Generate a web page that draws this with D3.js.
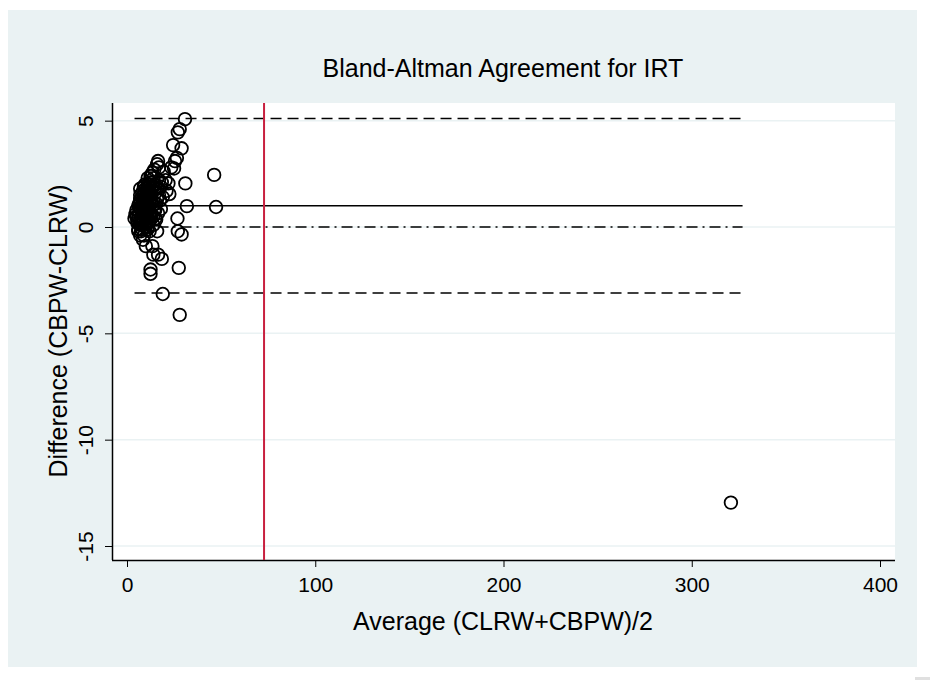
<!DOCTYPE html>
<html><head><meta charset="utf-8">
<script src="https://cdn.jsdelivr.net/npm/d3@7"></script>
<style>body{margin:0;background:#fff}svg{display:block}text{font-family:"Liberation Sans",Arial,sans-serif;fill:#000}</style>
</head><body>
<svg id="c" width="930" height="680"></svg>
<script>
const title = "Bland-Altman Agreement for IRT";
const xLabel = "Average (CLRW+CBPW)/2";
const yLabel = "Difference (CBPW-CLRW)";
const xTicks = [0, 100, 200, 300, 400];
const yTicks = [5, 0, -5, -10, -15];
const avgValues = [30.8,28.0,27.0,29.0,24.5,26.5,25.5,23.5,25.0,16.5,16.0,17.0,14.5,13.5,19.5,20.5,22.0,18.5,21.0,22.5,19.0,17.5,18.0,16.5,15.5,16.0,13.5,14.0,16.5,18.5,12.5,12.5,19.0,28.0,27.5,27.0,29.0,26.8,31.8,47.3,46.3,31.0,320.8,
5,5.5,6,6.5,7,7,7.5,8,8,8.5,9,9,9.5,10,10,10.5,11,11,11.5,12,12,12.5,13,13,13.5,14,14,14.5,15,15,15.5,10,9,11,12,7.5,8.5,9.5,10.5,11.5,12.5,13.5,6,6.5,8,10,11,14,15,16,17,18,17,13,12,9,7,8.5,7.5,5,
4,4.5,5.5,6,6.5,7,7.5,8,8.5,9,9.5,10,10.5,11,11.5,12,12.5,13,13.5,14,8,9,10,11,12,6,7,8,9,10,11,12,13,14,15,16,7,9.5,11,12.5];
const diffValues = [5.07,4.6,4.45,3.7,3.85,3.25,3.1,2.8,2.75,3.1,2.95,2.8,2.7,2.55,2.6,2.2,2.05,2.1,1.7,1.55,1.4,1.25,0.85,0.65,0.35,-0.2,-0.9,-1.3,-1.3,-1.5,-2.0,-2.2,-3.15,-4.13,-1.92,-0.2,-0.35,0.4,0.98,0.94,2.45,2.05,-12.96,
0.5,0.3,-0.2,0.7,0.9,0.1,1.2,1.4,0.4,-0.6,1.6,0.8,0,1.8,1.1,0.5,2.0,1.4,0.2,1.7,0.9,2.1,1.5,0.6,1.9,2.3,1.2,0.8,1.6,2.0,1.1,-0.9,-0.4,-0.1,0.3,0.5,1.0,1.3,1.6,1.9,1.3,1.0,1.0,0.2,-0.1,0.6,0.9,0.1,0.4,1.8,2.2,1.9,1.5,2.4,2.0,1.9,1.5,1.7,-0.2,0.8,
0.4,0.6,0.2,0.5,1.1,1.3,0.8,1.0,1.2,1.5,1.0,1.4,1.2,1.7,1.5,1.2,1.6,1.8,2.1,1.9,0.6,0.3,0.9,0.7,0.5,-0.1,-0.4,0.2,0.1,0.2,0.0,-0.2,0.4,0.5,0.8,1.3,1.8,2.0,2.3,2.4];
const meanDiff = 1.0;
const upperLoA = 5.1;
const lowerLoA = -3.1;
const refX = 72.8;
const lineRange = [4, 327];

const svg = d3.select("#c");
svg.append("rect").attr("x",8).attr("y",10).attr("width",909).attr("height",657).attr("fill","#eaf2f3");
svg.append("rect").attr("x",915).attr("y",677).attr("width",15).attr("height",3).attr("fill","#e0e0e0");
const L=112,R=895,T=103,B=560;
svg.append("rect").attr("x",L).attr("y",T).attr("width",R-L).attr("height",B-T).attr("fill","#fff");

const x = d3.scaleLinear().domain([0,400]).range([127,880]);
const y = d3.scaleLinear().domain([0,-15]).range([227,546]);

svg.append("g").selectAll("line").data(yTicks).join("line")
  .attr("x1",L).attr("x2",R).attr("y1",d=>y(d)).attr("y2",d=>y(d))
  .attr("stroke","#eaf2f3").attr("stroke-width",1.5);

const fmt = d => String(d);
const xAxis = svg.append("g").attr("transform",`translate(0,${B})`)
  .call(d3.axisBottom(x).tickValues(xTicks).tickSize(7).tickPadding(10).tickFormat(fmt));
xAxis.select(".domain").attr("d",`M${L},0.5H${R}`).attr("stroke","#000").attr("stroke-width",1.5);
xAxis.selectAll(".tick line").attr("stroke","#000");
xAxis.selectAll(".tick text").attr("font-size",21).attr("fill","#000");

const yAxis = svg.append("g").attr("transform",`translate(${L},0)`)
  .call(d3.axisLeft(y).tickValues(yTicks).tickSize(7).tickFormat(fmt));
yAxis.select(".domain").attr("d",`M0.5,${T}V${B}`).attr("stroke","#000").attr("stroke-width",1.5);
yAxis.selectAll(".tick line").attr("stroke","#000");
yAxis.selectAll(".tick text").attr("font-size",21).attr("fill","#000")
  .attr("x",0).attr("dy",0).attr("text-anchor","middle").attr("transform","translate(-19,0) rotate(-90)");

const hl = (v,dash,w)=>svg.append("line").attr("x1",x(lineRange[0])).attr("x2",x(lineRange[1]))
  .attr("y1",y(v)).attr("y2",y(v)).attr("stroke","#000").attr("stroke-width",w||1.6).attr("stroke-dasharray",dash);
hl(upperLoA,"11,6");
hl(lowerLoA,"11,6");
hl(0,"11,5,2,5");
hl(meanDiff,null);

svg.append("line").attr("x1",x(refX)).attr("x2",x(refX)).attr("y1",T).attr("y2",B)
  .attr("stroke","#c8203f").attr("stroke-width",2);

const pts = avgValues.map((a,i)=>({a, d:diffValues[i]}));
svg.append("g").selectAll("circle").data(pts).join("circle")
  .attr("cx",p=>x(p.a)).attr("cy",p=>y(p.d)).attr("r",6.3)
  .attr("fill","none").attr("stroke","#000").attr("stroke-width",1.8);

svg.append("text").attr("x",503).attr("y",77).attr("text-anchor","middle").attr("font-size",25).text(title);
svg.append("text").attr("x",503).attr("y",630).attr("text-anchor","middle").attr("font-size",25).text(xLabel);
svg.append("text").attr("transform","translate(67,331) rotate(-90)").attr("text-anchor","middle").attr("font-size",25).text(yLabel);
</script>
</body></html>
